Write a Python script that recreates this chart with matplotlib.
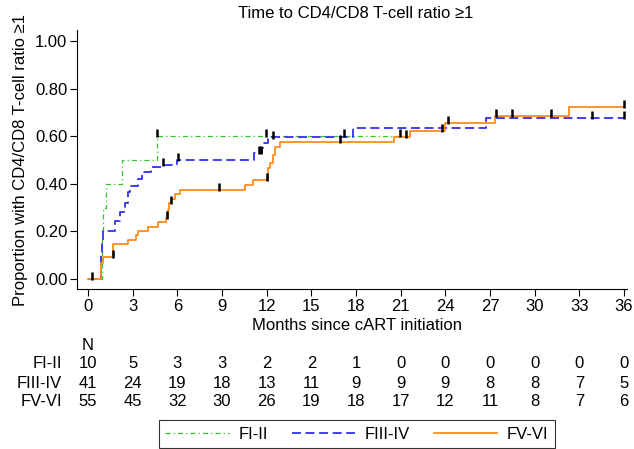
import numpy as np
import matplotlib
matplotlib.use('Agg')
import matplotlib.pyplot as plt
from matplotlib.transforms import blended_transform_factory

plt.rcParams['font.family'] = ['Liberation Sans', 'DejaVu Sans']
plt.rcParams['font.size'] = 12

# step curves (months, proportion with ratio >= 1)
t_g = [0, 0.95, 1.0, 1.24, 2.31, 4.6, 20.95]
s_g = [0, 0.20, 0.30, 0.40, 0.50, 0.60, 0.60]

t_b = [0, 0.85, 0.9, 0.95, 1.0, 1.8, 2.13, 2.47, 2.69, 2.8, 3.36, 3.6, 4.26, 4.94,
       5.95, 11.14, 11.66, 11.77, 12.06, 17.8, 26.74, 36.0]
s_b = [0, 0.05, 0.10, 0.15, 0.20, 0.245, 0.28, 0.32, 0.365, 0.39, 0.42, 0.45, 0.47, 0.48,
       0.50, 0.53, 0.55, 0.57, 0.595, 0.633, 0.675, 0.675]

t_o = [0, 0.9, 1.0, 1.7, 2.69, 3.25, 3.36, 4.03, 4.7, 5.25, 5.35, 5.45, 5.6, 5.85, 6.2,
       10.54, 11.05, 12.1, 12.2, 12.4, 12.58, 12.9, 20.58, 21.6, 23.95, 27.35, 32.3, 36.0]
s_o = [0, 0.066, 0.094, 0.146, 0.165, 0.183, 0.2, 0.22, 0.24, 0.258, 0.29, 0.318, 0.335,
       0.357, 0.374, 0.395, 0.416, 0.465, 0.486, 0.521, 0.553, 0.577, 0.598, 0.623, 0.654,
       0.685, 0.724, 0.724]

# censoring times
c_g = [4.6, 11.95, 17.2, 20.95]
c_b = [0.27, 5.04, 6.05, 11.5, 11.6, 12.4, 33.85, 36.0]
c_o = [1.68, 5.3, 5.56, 8.8, 12.0, 16.9, 21.35, 23.8, 24.2, 27.4, 28.5, 31.1, 36.0]

# number at risk
risk_months = [0, 3, 6, 9, 12, 15, 18, 21, 24, 27, 30, 33, 36]
n_g = [10, 5, 3, 3, 2, 2, 1, 0, 0, 0, 0, 0, 0]
n_b = [41, 24, 19, 18, 13, 11, 9, 9, 9, 8, 8, 7, 5]
n_o = [55, 45, 32, 30, 26, 19, 18, 17, 12, 11, 8, 7, 6]
groups = ['FI-II', 'FIII-IV', 'FV-VI']

col_g = '#33c033'
col_b = '#3030f0'
col_o = '#ff8c1a'

W, H = 634, 449
fig = plt.figure(figsize=(W/100, H/100), dpi=100)
ax = fig.add_axes([77/W, 1-289/H, 550/W, 259/H])

lg, = ax.step(t_g, s_g, where='post', color=col_g, lw=0.9, label=groups[0])
lg.set_dashes([4, 2.5, 1, 2.5])
lb, = ax.step(t_b, s_b, where='post', color=col_b, lw=1.3, label=groups[1])
lb.set_dashes([5, 2.5])
lo, = ax.step(t_o, s_o, where='post', color=col_o, lw=1.3, label=groups[2])

def surv_at(tt, ss, x):
    i = np.searchsorted(tt, x, side='right') - 1
    return ss[max(i, 0)]

for ts, tt, ss in [(c_g, t_g, s_g), (c_b, t_b, s_b), (c_o, t_o, s_o)]:
    ys = [surv_at(np.array(tt), ss, x) + 0.012 for x in ts]
    ax.plot(ts, ys, ls='none', marker='|', ms=5.5, mew=1.8, color='black', zorder=5)

ax.set_xlim(-0.74, 36.2)
ax.set_ylim(-0.042, 1.046)
ax.set_xticks(risk_months)
ax.set_yticks([0, 0.2, 0.4, 0.6, 0.8, 1.0])
ax.set_yticklabels(['0.00', '0.20', '0.40', '0.60', '0.80', '1.00'])
ax.spines['top'].set_visible(False)
ax.spines['right'].set_visible(False)
ax.tick_params(length=5, width=0.8, pad=2)
ax.set_ylabel('Proportion with CD4/CD8 T-cell ratio \u22651', labelpad=5)

fig.text(356/W, 1-13/H, 'Time to CD4/CD8 T-cell ratio \u22651', ha='center', va='center')
fig.text(357/W, 1-325/H, 'Months since cART initiation', ha='center', va='center')

# risk table
tr = blended_transform_factory(ax.transData, fig.transFigure)
ax.text(0, 1-346/H, 'N', transform=tr, ha='center', va='center', clip_on=False)
for ypix, name, nums in zip([364, 383, 401], groups, [n_g, n_b, n_o]):
    fig.text(62/W, 1-ypix/H, name, ha='right', va='center')
    for m, n in zip(risk_months, nums):
        ax.text(m, 1-ypix/H, str(n), transform=tr, ha='center', va='center', clip_on=False)

leg = fig.legend(handles=[lg, lb, lo], loc='upper center', bbox_to_anchor=(357/W, 1-420/H),
                 ncol=3, frameon=True, fancybox=False, edgecolor='black', handlelength=3.8,
                 handletextpad=0.6, columnspacing=1.4, borderpad=0.4, borderaxespad=0)
leg.get_frame().set_linewidth(0.8)

fig.savefig('out.png', dpi=100)
